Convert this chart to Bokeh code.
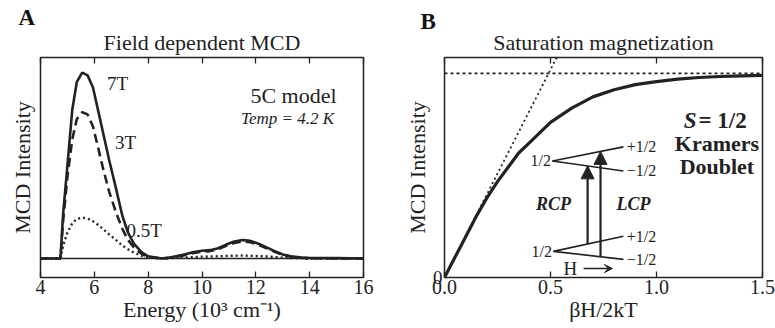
from bokeh.plotting import figure
from bokeh.layouts import row
from bokeh.models import (Range1d, LinearAxis, FixedTicker, Label, Span, Arrow, Title,
                          NormalHead, VeeHead, PrintfTickFormatter)
from bokeh.embed import file_html
from bokeh.resources import INLINE

SERIF = "Liberation Serif"
INK = "#222222"

# ---------------- Panel A data: field dependent MCD ----------------
energy = [4.0, 4.74, 4.84, 5.0, 5.18, 5.35, 5.55, 5.75, 5.95, 6.15, 6.35, 6.55, 6.8,
          7.04, 7.25, 7.47, 7.75, 8.0, 8.5, 8.8, 9.3, 9.7, 10.0, 10.3, 10.6, 10.9,
          11.2, 11.5, 11.8, 12.1, 12.4, 12.7, 13.0, 13.3, 13.7, 14.0, 15.0, 16.0]
mcd_7T = [0.0, 0.0, 0.24, 0.5, 0.8, 0.95, 1.0, 0.985, 0.92, 0.79, 0.66, 0.53, 0.38,
          0.23, 0.14, 0.08, 0.035, 0.012, 0.0, 0.005, 0.02, 0.035, 0.042, 0.045, 0.055, 0.075,
          0.092, 0.10, 0.095, 0.08, 0.06, 0.04, 0.022, 0.012, 0.005, 0.003, 0.002, 0.0]
mcd_3T = [0.0, 0.0, 0.2, 0.44, 0.64, 0.75, 0.787, 0.775, 0.71, 0.59, 0.47, 0.36, 0.25,
          0.16, 0.10, 0.06, 0.026, 0.008, 0.0, 0.004, 0.017, 0.03, 0.036, 0.04, 0.05, 0.068,
          0.084, 0.092, 0.088, 0.074, 0.055, 0.036, 0.02, 0.01, 0.004, 0.002, 0.001, 0.0]
mcd_05T = [0.0, 0.0, 0.07, 0.14, 0.19, 0.212, 0.22, 0.215, 0.2, 0.18, 0.155, 0.13, 0.1,
           0.07, 0.05, 0.032, 0.016, 0.006, 0.0, 0.002, 0.005, 0.008, 0.01, 0.011, 0.012, 0.014,
           0.015, 0.016, 0.015, 0.013, 0.011, 0.008, 0.005, 0.003, 0.001, 0.0, 0.0, 0.0]
energy_ticks = [4, 6, 8, 10, 12, 14, 16]

# ---------------- Panel B data: saturation magnetization ----------------
beta_h = [0.0, 0.05, 0.1, 0.15, 0.2, 0.25, 0.3, 0.35, 0.4, 0.45, 0.5, 0.6, 0.7,
          0.8, 0.9, 1.0, 1.1, 1.2, 1.3, 1.4, 1.5]
mcd_sat = [0.0, 0.1, 0.2, 0.3, 0.39, 0.47, 0.54, 0.61, 0.66, 0.71, 0.76, 0.83, 0.885,
           0.92, 0.945, 0.96, 0.972, 0.98, 0.985, 0.988, 0.99]
tangent_x = [0.0, 0.54]
tangent_y = [0.0, 1.10]
saturation_level = 1.0
bh_ticks = [0.0, 0.5, 1.0, 1.5]


def style_axes(p):
    p.grid.visible = False
    p.outline_line_color = INK
    p.outline_line_width = 1.5
    p.outline_line_alpha = 1.0
    p.background_fill_color = "white"
    p.border_fill_color = "white"
    for ax in p.axis:
        ax.axis_line_color = None
        ax.minor_tick_line_color = None
        ax.major_tick_in = 6
        ax.major_tick_out = 0
        ax.major_tick_line_color = INK
        ax.major_tick_line_width = 1.3
        ax.major_label_text_font = SERIF
        ax.major_label_text_font_size = "20px"
        ax.major_label_text_color = INK
        ax.axis_label_text_font = SERIF
        ax.axis_label_text_font_size = "22px"
        ax.axis_label_text_font_style = "normal"
        ax.axis_label_text_color = INK


def panel_letter(p, letter, offset, standoff):
    p.title.text = letter
    p.title.align = "left"
    p.title.offset = offset
    p.title.text_font = SERIF
    p.title.text_font_size = "23px"
    p.title.text_font_style = "bold"
    p.title.text_color = "#111111"
    p.title.standoff = standoff


def add_title(p, text):
    p.add_layout(Title(text=text, align="center", text_font=SERIF, text_font_size="22px",
                       text_font_style="normal", text_color=INK, standoff=5), "above")


# ================= Panel A =================
pa = figure(width=400, height=328, x_range=Range1d(4, 16), y_range=Range1d(-0.102, 1.081),
            output_backend="svg", toolbar_location=None,
            min_border_left=40, min_border_right=37, min_border_top=57, min_border_bottom=51)
top_a = LinearAxis(ticker=FixedTicker(ticks=energy_ticks), major_label_standoff=0,
                   major_label_overrides={t: "" for t in energy_ticks})
pa.add_layout(top_a, "above")
add_title(pa, "Field dependent MCD")
panel_letter(pa, "A", -22, -9)
style_axes(pa)
pa.below[0].ticker = FixedTicker(ticks=energy_ticks)
pa.below[0].axis_label = "Energy (10³ cm⁻¹)"
pa.below[0].major_label_standoff = 2
pa.below[0].axis_label_standoff = 0
pa.yaxis.ticker = FixedTicker(ticks=[])
pa.yaxis.axis_label = "MCD Intensity"
pa.yaxis.axis_label_standoff = 6
pa.yaxis.major_tick_in = 0

pa.add_layout(Span(location=0, dimension="width", line_color=INK, line_width=1.5))
pa.line(energy, mcd_7T, line_color=INK, line_width=2.6)
pa.line(energy, mcd_3T, line_color=INK, line_width=2.6, line_dash="9 5")
pa.line(energy, mcd_05T, line_color=INK, line_width=2.4, line_dash="2 3")

for txt, x, y in [("7T", 6.86, 0.94), ("3T", 7.16, 0.624), ("0.5T", 7.85, 0.15)]:
    pa.add_layout(Label(x=x, y=y, text=txt, text_font=SERIF, text_font_size="19px",
                        text_color=INK, text_align="center", text_baseline="middle"))
pa.add_layout(Label(x=13.4, y=0.876, text="5C model", text_font=SERIF, text_font_size="22px",
                    text_color=INK, text_align="center", text_baseline="middle"))
pa.add_layout(Label(x=13.18, y=0.753, text="Temp = 4.2 K", text_font=SERIF, text_font_size="17px",
                    text_font_style="italic", text_color=INK, text_align="center",
                    text_baseline="middle"))

# ================= Panel B =================
pb = figure(width=375, height=328, x_range=Range1d(0, 1.5), y_range=Range1d(0, 1.078),
            output_backend="svg", toolbar_location=None,
            min_border_left=44, min_border_right=13, min_border_top=57, min_border_bottom=51)
top_b = LinearAxis(ticker=FixedTicker(ticks=bh_ticks), major_label_standoff=0,
                   major_label_overrides={t: "" for t in bh_ticks})
pb.add_layout(top_b, "above")
add_title(pb, "Saturation magnetization")
panel_letter(pb, "B", -24, -16)
style_axes(pb)
pb.below[0].ticker = FixedTicker(ticks=bh_ticks)
pb.below[0].formatter = PrintfTickFormatter(format="%.1f")
pb.below[0].axis_label = "βH/2kT"
pb.below[0].major_label_standoff = 2
pb.below[0].axis_label_standoff = 0
pb.yaxis.ticker = FixedTicker(ticks=[0])
pb.yaxis.major_tick_in = 0
pb.yaxis.major_label_standoff = 2
pb.yaxis.major_label_text_font_size = "19px"
pb.yaxis.axis_label = "MCD Intensity"
pb.yaxis.axis_label_standoff = 0

pb.add_layout(Span(location=saturation_level, dimension="width", line_color=INK,
                   line_width=1.6, line_dash="3 3"))
pb.line(tangent_x, tangent_y, line_color=INK, line_width=1.8, line_dash="2 3")
pb.line(beta_h, mcd_sat, line_color=INK, line_width=3.2)

# energy level diagram (annotation geometry)
pb.segment(x0=[0.509, 0.509, 0.514, 0.514], y0=[0.571, 0.571, 0.128, 0.128],
           x1=[0.844, 0.844, 0.844, 0.844], y1=[0.640, 0.522, 0.202, 0.089],
           line_color=INK, line_width=1.6)
for xs, ys, xe, ye in [(0.675, 0.164, 0.675, 0.547), (0.736, 0.102, 0.736, 0.618)]:
    pb.add_layout(Arrow(end=NormalHead(size=13, fill_color=INK, line_color=INK),
                        x_start=xs, y_start=ys, x_end=xe, y_end=ye,
                        line_color=INK, line_width=2.2))
pb.add_layout(Arrow(end=VeeHead(size=8, fill_color=INK, line_color=INK),
                    x_start=0.656, y_start=0.044, x_end=0.792, y_end=0.044,
                    line_color=INK, line_width=1.5))

for txt, x, y, align in [("1/2", 0.502, 0.571, "right"), ("1/2", 0.507, 0.128, "right"),
                         ("+1/2", 0.86, 0.640, "left"), ("\u22121/2", 0.86, 0.522, "left"),
                         ("+1/2", 0.86, 0.202, "left"), ("\u22121/2", 0.86, 0.089, "left")]:
    pb.add_layout(Label(x=x, y=y, text=txt, text_font=SERIF, text_font_size="16px",
                        text_color=INK, text_align=align, text_baseline="middle"))
for txt, x in [("RCP", 0.514), ("LCP", 0.892)]:
    pb.add_layout(Label(x=x, y=0.36, text=txt, text_font=SERIF, text_font_size="18px",
                        text_font_style="bold italic", text_color=INK, text_align="center",
                        text_baseline="middle"))
pb.add_layout(Label(x=0.594, y=0.044, text="H", text_font=SERIF, text_font_size="19px",
                    text_color=INK, text_align="center", text_baseline="middle"))

pb.add_layout(Label(x=1.189, y=0.768, text="S", text_font=SERIF, text_font_size="23px",
                    text_font_style="bold italic", text_color=INK, text_align="right",
                    text_baseline="middle"))
pb.add_layout(Label(x=1.198, y=0.768, text="= 1/2", text_font=SERIF, text_font_size="23px",
                    text_font_style="bold", text_color=INK, text_align="left",
                    text_baseline="middle"))
for txt, y in [("Kramers", 0.655), ("Doublet", 0.542)]:
    pb.add_layout(Label(x=1.285, y=y, text=txt, text_font=SERIF, text_font_size="22px",
                        text_font_style="bold", text_color=INK, text_align="center",
                        text_baseline="middle"))

layout = row(pa, pb)
open("out.html", "w").write(file_html(layout, INLINE))
